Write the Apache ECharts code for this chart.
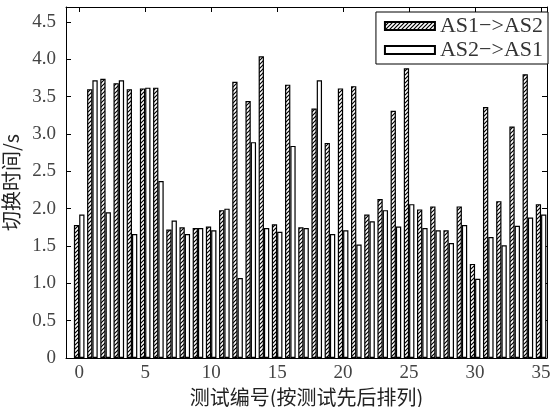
<!DOCTYPE html>
<html>
<head>
<meta charset="utf-8">
<script src="https://cdn.jsdelivr.net/npm/echarts@6/dist/echarts.min.js"></script>
<style>
  html, body { margin: 0; padding: 0; background: #fff; }
  #chart { width: 554px; height: 407px; }
</style>
</head>
<body>
<div id="chart"></div>
<script>
// test number 0..35
const testIds = [0, 1, 2, 3, 4, 5, 6, 7, 8, 9, 10, 11, 12, 13, 14, 15, 16, 17,
  18, 19, 20, 21, 22, 23, 24, 25, 26, 27, 28, 29, 30, 31, 32, 33, 34, 35]
// AS1->AS2 switching time (s)
const as1ToAs2 = [1.78, 3.60, 3.74, 3.68, 3.60, 3.61, 3.62, 1.72, 1.75, 1.74, 1.76, 1.98,
  3.70, 3.44, 4.04, 1.79, 3.66, 1.75, 3.34, 2.88, 3.61, 3.64, 1.92, 2.13,
  3.31, 3.88, 1.99, 2.03, 1.71, 2.03, 1.26, 3.36, 2.10, 3.10, 3.80, 2.06]
// AS2->AS1 switching time (s)
const as2ToAs1 = [1.92, 3.72, 1.95, 3.72, 1.66, 3.62, 2.37, 1.84, 1.66, 1.74, 1.71, 2.00,
  1.07, 2.89, 1.74, 1.69, 2.84, 1.74, 3.72, 1.66, 1.71, 1.52, 1.83, 1.98,
  1.76, 2.06, 1.74, 1.71, 1.54, 1.78, 1.06, 1.62, 1.51, 1.77, 1.88, 1.92]
const xTicks = [0, 5, 10, 15, 20, 25, 30, 35]
const yTicks = [0, 0.5, 1.0, 1.5, 2.0, 2.5, 3.0, 3.5, 4.0, 4.5]

// diagonal hatch like matplotlib '////'
function makeHatch() {
  const c = document.createElement('canvas')
  c.width = 4
  c.height = 4
  const ctx = c.getContext('2d')
  ctx.fillStyle = '#fff'
  ctx.fillRect(0, 0, 4, 4)
  ctx.strokeStyle = '#000'
  ctx.lineWidth = 1.2
  ctx.beginPath()
  ctx.moveTo(0, 4); ctx.lineTo(4, 0)
  ctx.moveTo(-1, 1); ctx.lineTo(1, -1)
  ctx.moveTo(3, 5); ctx.lineTo(5, 3)
  ctx.stroke()
  return c
}

const numFont = 'Liberation Serif'
const cjkFont = 'Noto Sans CJK SC'

const myChart = echarts.init(document.getElementById('chart'))

const baseX = {
  type: 'value',
  min: -1,
  max: 35.45,
  splitLine: { show: false },
  axisLine: { show: true, onZero: false, lineStyle: { color: '#000', width: 1 } }
}
const baseY = {
  type: 'value',
  min: 0,
  max: 4.7,
  splitLine: { show: false },
  axisLine: { show: true, onZero: false, lineStyle: { color: '#000', width: 1 } }
}

const option = {
  animation: false,
  backgroundColor: '#fff',
  grid: { left: 66, right: 7, top: 7, bottom: 49, containLabel: false, outerBoundsMode: 'none' },
  legend: {
    orient: 'vertical',
    right: 6,
    top: 12,
    padding: [3, 5, 3, 8],
    itemGap: 2,
    itemWidth: 50,
    itemHeight: 8,
    icon: 'rect',
    borderColor: '#000',
    borderWidth: 1,
    backgroundColor: '#fff',
    textStyle: { fontFamily: numFont, fontSize: 22, color: '#333' },
    data: ['AS1−>AS2', 'AS2−>AS1']
  },
  xAxis: [
    Object.assign({}, baseX, {
      position: 'bottom',
      name: '测试编号(按测试先后排列)',
      nameLocation: 'middle',
      nameGap: 26,
      nameTextStyle: { fontFamily: cjkFont, fontSize: 20, color: '#222' },
      axisTick: { show: true, inside: true, length: 5, customValues: xTicks, lineStyle: { color: '#000' } },
      axisLabel: { customValues: xTicks, margin: 6, fontFamily: numFont, fontSize: 19, color: '#444' }
    }),
    Object.assign({}, baseX, {
      position: 'top',
      axisTick: { show: true, inside: true, length: 5, customValues: xTicks, lineStyle: { color: '#000' } },
      axisLabel: { show: false }
    })
  ],
  yAxis: [
    Object.assign({}, baseY, {
      position: 'left',
      name: '切换时间/s',
      nameLocation: 'middle',
      nameGap: 39,
      nameTextStyle: { fontFamily: cjkFont, fontSize: 20, color: '#222' },
      axisTick: { show: true, inside: true, length: 5, customValues: yTicks, lineStyle: { color: '#000' } },
      axisLabel: {
        customValues: yTicks,
        margin: 10,
        fontFamily: numFont,
        fontSize: 19,
        color: '#444',
        formatter: function(v) { return v === 0 ? '0' : v.toFixed(1) }
      }
    }),
    Object.assign({}, baseY, {
      position: 'right',
      axisTick: { show: true, inside: true, length: 5, customValues: yTicks, lineStyle: { color: '#000' } },
      axisLabel: { show: false }
    })
  ],
  series: [
    {
      name: 'AS1−>AS2',
      type: 'bar',
      barWidth: 5.3,
      barGap: '0%',
      itemStyle: { color: { image: makeHatch(), repeat: 'repeat' }, borderColor: '#000', borderWidth: 1.2 },
      data: testIds.map((id, i) => [id, as1ToAs2[i]])
    },
    {
      name: 'AS2−>AS1',
      type: 'bar',
      barWidth: 5.3,
      barGap: '0%',
      itemStyle: { color: '#fff', borderColor: '#000', borderWidth: 1.2 },
      data: testIds.map((id, i) => [id, as2ToAs1[i]])
    }
  ]
}
myChart.setOption(option)
</script>
</body>
</html>
